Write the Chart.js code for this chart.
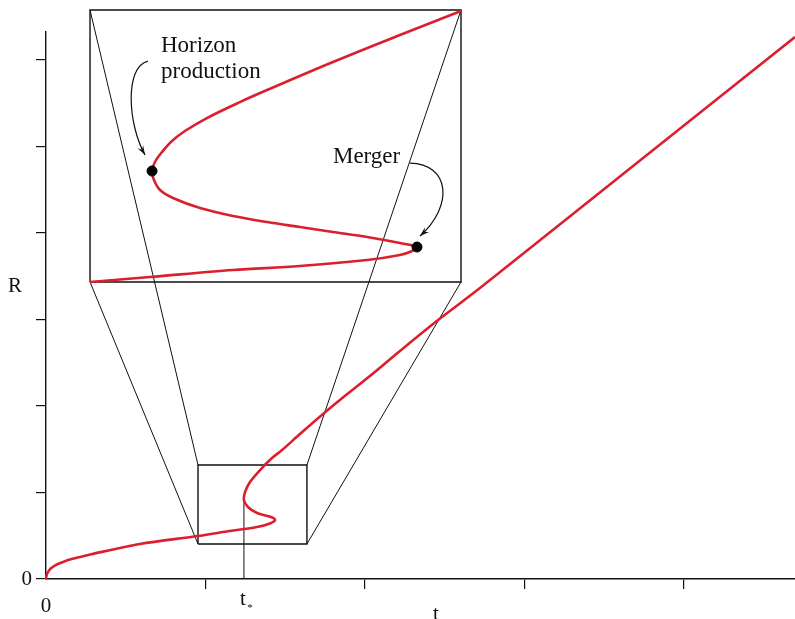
<!DOCTYPE html>
<html>
<head>
<meta charset="utf-8">
<script src="https://cdn.jsdelivr.net/npm/chart.js@4.4.1/dist/chart.umd.min.js"></script>
<style>
    html, body { margin: 0; padding: 0; background: #fff; overflow: hidden; }
    canvas { display: block; }
</style>
</head>
<body>
<canvas id="graficoRaio" width="795" height="619"></canvas>
<script>
// curva principal R(t)
const tempoCurva = [0, 0.003, 0.009, 0.019, 0.031, 0.050, 0.075, 0.107, 0.150, 0.213, 0.276, 0.589, 0.953, 1.110, 1.323, 1.404, 1.436, 1.411, 1.323, 1.266, 1.241, 1.248, 1.279, 1.342, 1.417, 1.480, 1.592, 1.737, 1.881, 2.031, 2.219, 2.458, 2.721, 3.724, 4.696];
const raioCurva = [0, 0.035, 0.069, 0.098, 0.124, 0.150, 0.173, 0.197, 0.225, 0.254, 0.283, 0.405, 0.497, 0.543, 0.601, 0.642, 0.682, 0.717, 0.763, 0.832, 0.913, 1.006, 1.121, 1.260, 1.399, 1.491, 1.676, 1.908, 2.127, 2.347, 2.636, 2.994, 3.364, 4.838, 6.266];

// curva ampliada (desenhada dentro da caixa grande)
const tempoZoom = [0.276, 0.652, 1.172, 1.592, 2.013, 2.219, 2.295, 2.326, 2.219, 2.013, 1.799, 1.592, 1.386, 1.172, 0.966, 0.796, 0.715, 0.677, 0.665, 0.683, 0.727, 0.790, 0.871, 1.009, 1.216, 1.386, 1.799, 2.219, 2.602];
const raioZoom = [3.434, 3.491, 3.572, 3.618, 3.688, 3.746, 3.792, 3.838, 3.884, 3.954, 4.012, 4.069, 4.127, 4.197, 4.289, 4.405, 4.497, 4.613, 4.717, 4.821, 4.936, 5.064, 5.179, 5.329, 5.514, 5.653, 5.977, 6.289, 6.566];

// horizon production e merger
const pontosT = [0.665, 2.326];
const pontosR = [4.717, 3.838];

// caixas e t*
const caixaGrandeT = [0.276, 2.602];
const caixaGrandeR = [3.434, 6.578];
const caixaPequenaT = [0.953, 1.636];
const caixaPequenaR = [0.405, 1.318];
const tEstrela = 1.241;
const rEstrela = 0.913;

const ticksT = [0, 1, 2, 3, 4];
const ticksR = [0, 1, 2, 3, 4, 5, 6];

const vermelho = '#dc1f2e';
const fonteSerif = 'Liberation Serif';

function juntaPontos(xs, ys) {
    return xs.map((x, i) => ({ x: x, y: ys[i] }));
}

function retangulo(ts, rs) {
    return [
        { x: ts[0], y: rs[0] }, { x: ts[1], y: rs[0] },
        { x: ts[1], y: rs[1] }, { x: ts[0], y: rs[1] },
        { x: ts[0], y: rs[0] }
    ];
}

function linhaPreta(dados, largura) {
    return {
        data: dados,
        showLine: true,
        borderColor: '#111',
        borderWidth: largura,
        pointRadius: 0,
        tension: 0,
        clip: false,
        order: 3
    };
}

// linhas ligando a caixa pequena à ampliação
const ligacoes = [
    [{ x: caixaGrandeT[0], y: caixaGrandeR[1] }, { x: caixaPequenaT[0], y: caixaPequenaR[1] }],
    [{ x: caixaGrandeT[0], y: caixaGrandeR[0] }, { x: caixaPequenaT[0], y: caixaPequenaR[0] }],
    [{ x: caixaGrandeT[1], y: caixaGrandeR[1] }, { x: caixaPequenaT[1], y: caixaPequenaR[1] }],
    [{ x: caixaGrandeT[1], y: caixaGrandeR[0] }, { x: caixaPequenaT[1], y: caixaPequenaR[0] }]
];

const datasets = [
    {
        data: juntaPontos(pontosT, pontosR),
        backgroundColor: '#000',
        borderColor: '#000',
        pointRadius: 5,
        showLine: false,
        clip: false,
        order: 0
    },
    {
        data: juntaPontos(tempoCurva, raioCurva),
        showLine: true,
        borderColor: vermelho,
        borderWidth: 2.6,
        pointRadius: 0,
        tension: 0.3,
        clip: false,
        order: 1
    },
    {
        data: juntaPontos(tempoZoom, raioZoom),
        showLine: true,
        borderColor: vermelho,
        borderWidth: 2.6,
        pointRadius: 0,
        tension: 0.35,
        clip: false,
        order: 1
    },
    linhaPreta(retangulo(caixaGrandeT, caixaGrandeR), 1.4),
    linhaPreta(retangulo(caixaPequenaT, caixaPequenaR), 1.4),
    linhaPreta([{ x: tEstrela, y: 0 }, { x: tEstrela, y: rEstrela }], 1)
];
ligacoes.forEach(par => datasets.push(linhaPreta(par, 1)));

function seta(ctx, p0, c1, c2, p1) {
    ctx.beginPath();
    ctx.moveTo(p0[0], p0[1]);
    ctx.bezierCurveTo(c1[0], c1[1], c2[0], c2[1], p1[0], p1[1]);
    ctx.stroke();
    const ang = Math.atan2(p1[1] - c2[1], p1[0] - c2[0]);
    const comp = 10, abre = 0.32;
    ctx.beginPath();
    ctx.moveTo(p1[0], p1[1]);
    ctx.lineTo(p1[0] - comp * Math.cos(ang - abre), p1[1] - comp * Math.sin(ang - abre));
    ctx.lineTo(p1[0] - comp * 0.6 * Math.cos(ang), p1[1] - comp * 0.6 * Math.sin(ang));
    ctx.lineTo(p1[0] - comp * Math.cos(ang + abre), p1[1] - comp * Math.sin(ang + abre));
    ctx.closePath();
    ctx.fill();
}

const anotacoes = {
    id: 'anotacoes',
    afterDatasetsDraw(chart) {
        const ctx = chart.ctx;
        const sx = chart.scales.x, sy = chart.scales.y;
        const p = (t, r) => [sx.getPixelForValue(t), sy.getPixelForValue(r)];
        ctx.save();
        ctx.fillStyle = '#111';
        ctx.strokeStyle = '#111';
        ctx.lineWidth = 1.2;
        ctx.textBaseline = 'alphabetic';

        ctx.font = '23px "' + fonteSerif + '"';
        ctx.textAlign = 'left';
        let q = p(0.721, 6.092);
        ctx.fillText('Horizon', q[0], q[1]);
        q = p(0.721, 5.792);
        ctx.fillText('production', q[0], q[1]);
        q = p(1.799, 4.809);
        ctx.fillText('Merger', q[0], q[1]);

        seta(ctx, p(0.639, 5.988), p(0.490, 5.920), p(0.514, 5.249), p(0.621, 4.902));
        seta(ctx, p(2.282, 4.809), p(2.530, 4.800), p(2.560, 4.324), p(2.345, 3.965));

        // títulos dos eixos
        ctx.font = '21px "' + fonteSerif + '"';
        ctx.textAlign = 'center';
        ctx.fillText('R', chart.chartArea.left - 31, sy.getPixelForValue(3.318));
        ctx.fillText('t', sx.getPixelForValue(2.445), chart.height + 1);

        // t*
        const xs = sx.getPixelForValue(tEstrela);
        ctx.fillText('t', xs - 1, chart.chartArea.bottom + 26);
        ctx.font = '11px "' + fonteSerif + '"';
        ctx.fillText('*', xs + 6, chart.chartArea.bottom + 32);
        ctx.restore();
    }
};

const graficoRaio = new Chart(document.getElementById('graficoRaio'), {
    type: 'scatter',
    data: { datasets: datasets },
    options: {
        responsive: false,
        animation: false,
        events: [],
        layout: { autoPadding: false, padding: { top: 32, right: 0, left: 0, bottom: 0 } },
        plugins: { legend: { display: false }, tooltip: { enabled: false } },
        scales: {
            x: {
                type: 'linear',
                min: 0,
                max: 4.696,
                afterBuildTicks: escala => { escala.ticks = ticksT.map(v => ({ value: v })); },
                afterFit: escala => {
                    escala.height = 40;
                    escala.paddingRight = 0;
                    escala.paddingLeft = 0;
                },
                grid: {
                    drawOnChartArea: false,
                    drawTicks: true,
                    tickLength: 10,
                    lineWidth: 1.2,
                    color: c => (c.tick && c.tick.value === 0) ? 'rgba(0,0,0,0)' : '#111'
                },
                border: { display: true, color: '#111', width: 1.4 },
                ticks: {
                    padding: 5,
                    maxRotation: 0,
                    color: '#111',
                    font: { family: fonteSerif, size: 21 },
                    callback: v => v === 0 ? '0' : ''
                }
            },
            y: {
                type: 'linear',
                min: 0,
                max: 6.324,
                afterBuildTicks: escala => { escala.ticks = ticksR.map(v => ({ value: v })); },
                afterFit: escala => {
                    escala.width = 46;
                    escala.paddingTop = 0;
                    escala.paddingBottom = 0;
                },
                grid: {
                    drawOnChartArea: false,
                    drawTicks: true,
                    tickLength: 10,
                    lineWidth: 1.2,
                    color: '#111'
                },
                border: { display: true, color: '#111', width: 1.4 },
                ticks: {
                    padding: 4,
                    color: '#111',
                    font: { family: fonteSerif, size: 21 },
                    callback: v => v === 0 ? '0' : ''
                }
            }
        }
    },
    plugins: [anotacoes]
});
</script>
</body>
</html>
